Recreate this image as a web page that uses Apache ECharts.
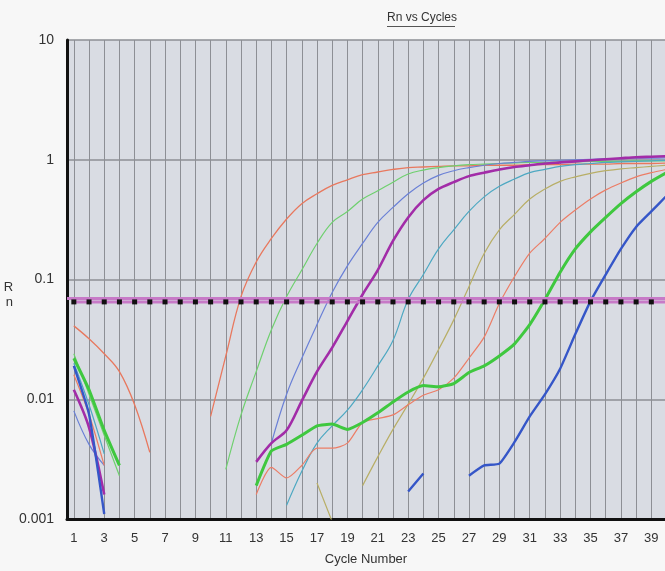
<!DOCTYPE html>
<html>
<head>
<meta charset="utf-8">
<script src="https://cdn.jsdelivr.net/npm/echarts@6/dist/echarts.min.js"></script>
<style>
  html, body { margin: 0; padding: 0; background: #f7f7f7; }
  #chart { width: 665px; height: 571px; }
</style>
</head>
<body>
<div id="chart"></div>
<script>
// Cycles 1..40 (index 0 = cycle 1), null = no point drawn
const cycles = [1, 2, 3, 4, 5, 6, 7, 8, 9, 10, 11, 12, 13, 14, 15, 16, 17, 18, 19, 20,
  21, 22, 23, 24, 25, 26, 27, 28, 29, 30, 31, 32, 33, 34, 35, 36, 37, 38, 39, 40];
const xTickLabels = [1, 3, 5, 7, 9, 11, 13, 15, 17, 19, 21, 23, 25, 27, 29, 31, 33, 35, 37, 39];
const threshold = 0.065;

const orangeThin = [0.041, 0.032, 0.024, 0.017, 0.009, 0.0036, null, null, null, 0.0072,
  0.023, 0.072, 0.14, 0.22, 0.32, 0.43, 0.52, 0.61, 0.68, 0.75,
  0.79, 0.83, 0.86, 0.87, 0.88, 0.89, 0.89, 0.9, 0.9, 0.9,
  0.91, 0.91, 0.91, 0.92, 0.92, 0.92, 0.93, 0.93, 0.93, 0.94];
const greenThin = [0.024, 0.011, 0.005, 0.0023, null, null, null, null, null, null,
  0.0026, 0.0074, 0.017, 0.038, 0.072, 0.12, 0.2, 0.3, 0.37, 0.47,
  0.55, 0.65, 0.76, 0.82, 0.86, 0.89, 0.91, 0.92, 0.93, 0.94,
  0.95, 0.95, 0.96, 0.96, 0.97, 0.97, 0.97, 0.98, 0.98, 0.98];
const blueThin = [0.008, 0.0042, 0.0028, null, null, null, null, null, null, null,
  null, null, null, 0.0043, 0.011, 0.022, 0.042, 0.078, 0.13, 0.2,
  0.3, 0.4, 0.52, 0.64, 0.74, 0.81, 0.86, 0.9, 0.93, 0.95,
  0.97, 0.98, 0.99, 1.0, 1.01, 1.02, 1.02, 1.03, 1.03, 1.04];
const purpleThick = [0.012, 0.0058, 0.0016, null, null, null, null, null, null, null,
  null, null, 0.003, 0.0043, 0.0055, 0.0097, 0.017, 0.027, 0.045, 0.075,
  0.12, 0.21, 0.33, 0.46, 0.57, 0.65, 0.73, 0.78, 0.83, 0.87,
  0.9, 0.93, 0.95, 0.97, 0.99, 1.01, 1.03, 1.05, 1.06, 1.07];
const cyanThin = [0.02, 0.009, 0.0035, null, null, null, null, null, null, null,
  null, null, null, null, 0.0013, 0.0025, 0.0043, 0.006, 0.0081, 0.012,
  0.019, 0.031, 0.068, 0.11, 0.18, 0.26, 0.37, 0.49, 0.6, 0.69,
  0.78, 0.83, 0.88, 0.91, 0.93, 0.95, 0.96, 0.97, 0.98, 0.99];
const oliveThin = [null, null, null, null, null, null, null, null, null, null,
  null, null, null, null, null, null, 0.002, 0.00095, null, 0.0019,
  0.0033, 0.0056, 0.0091, 0.015, 0.026, 0.046, 0.087, 0.165, 0.26, 0.35,
  0.47, 0.57, 0.66, 0.72, 0.77, 0.81, 0.84, 0.86, 0.88, 0.9];
const salmonThin = [0.016, 0.0075, 0.0028, null, null, null, null, null, null, null,
  null, null, 0.0016, 0.0027, 0.0022, 0.0028, 0.0039, 0.0039, 0.0043, 0.0064,
  0.0069, 0.0074, 0.009, 0.0108, 0.012, 0.015, 0.022, 0.033, 0.063, 0.106,
  0.166, 0.22, 0.3, 0.38, 0.47, 0.56, 0.64, 0.72, 0.78, 0.83];
const greenThick = [0.022, 0.012, 0.0055, 0.0028, null, null, null, null, null, null,
  null, null, 0.0019, 0.0037, 0.0042, 0.005, 0.006, 0.0062, 0.0056, 0.0064,
  0.0077, 0.0095, 0.0115, 0.013, 0.0127, 0.0135, 0.0167, 0.019, 0.023, 0.029,
  0.042, 0.068, 0.115, 0.18, 0.25, 0.33, 0.43, 0.54, 0.66, 0.78];
const blueThick = [0.019, 0.0075, 0.0011, null, null, null, null, null, null, null,
  null, null, null, null, null, null, null, null, null, null,
  null, null, 0.0017, 0.0024, null, null, 0.0023, 0.0028, 0.0029, 0.0044,
  0.0072, 0.011, 0.018, 0.035, 0.066, 0.11, 0.18, 0.275, 0.37, 0.5];

const FONT = '"Liberation Sans", Arial, sans-serif';

// ordre de dessin : les fines d'abord, les épaisses par-dessus
const curves = [
  { name: 'Orange', values: orangeThin, color: '#e8785e', width: 1.3, smooth: 0.4 },
  { name: 'Green', values: greenThin, color: '#6fd06f', width: 1.2, smooth: 0.4 },
  { name: 'Blue', values: blueThin, color: '#6a80d6', width: 1.2, smooth: 0.4 },
  { name: 'Cyan', values: cyanThin, color: '#4da8c2', width: 1.2, smooth: 0.4 },
  { name: 'Olive', values: oliveThin, color: '#b8ae66', width: 1.2, smooth: 0.4 },
  { name: 'Salmon', values: salmonThin, color: '#ec7d66', width: 1.2, smooth: 0.25 },
  { name: 'Purple', values: purpleThick, color: '#a22ca8', width: 2.6, smooth: 0.3 },
  { name: 'Green 2', values: greenThick, color: '#3fc83f', width: 3, smooth: 0.15 },
  { name: 'Blue 2', values: blueThick, color: '#3556c8', width: 2.4, smooth: 0.15 }
];

function toPoints(values) {
  return cycles.map((c, i) => [c, values[i] == null ? '-' : values[i]]);
}

const series = curves.map(c => ({
  name: c.name,
  type: 'line',
  data: toPoints(c.values),
  showSymbol: false,
  smooth: c.smooth,
  connectNulls: false,
  clip: true,
  lineStyle: { color: c.color, width: c.width },
  itemStyle: { color: c.color },
  z: 3
}));

// ligne de seuil pointillée
series.push({
  name: 'Threshold',
  type: 'line',
  data: cycles.map(c => [c, threshold]),
  symbol: 'rect',
  symbolSize: 5,
  showSymbol: true,
  lineStyle: { color: '#c77ac7', width: 3 },
  itemStyle: { color: '#111' },
  markLine: {
    silent: true,
    symbol: 'none',
    label: { show: false },
    lineStyle: { color: '#c77ac7', width: 3, type: 'solid' },
    data: [{ yAxis: threshold }]
  },
  z: 5
});

const chart = echarts.init(document.getElementById('chart'));
chart.setOption({
  animation: false,
  backgroundColor: '#f7f7f7',
  graphic: [
    {
      type: 'text', left: 387, top: 12,
      style: { text: 'Rn vs Cycles', font: '12px ' + FONT, fill: '#333' }
    },
    {
      type: 'rect', left: 387, top: 26,
      shape: { width: 68, height: 1 },
      style: { fill: '#555' }
    }
  ],
  grid: {
    left: 67, right: 0, top: 40, bottom: 50,
    show: true, backgroundColor: '#d9dce3', borderWidth: 0
  },
  xAxis: {
    type: 'value',
    min: 0.55,
    max: 39.9,
    name: 'Cycle Number',
    nameLocation: 'middle',
    nameGap: 34,
    nameTextStyle: { fontFamily: FONT, fontSize: 13, color: '#333' },
    axisLine: { show: true, onZero: false, lineStyle: { color: '#111', width: 3 } },
    axisTick: { show: false, customValues: cycles },
    axisLabel: {
      customValues: xTickLabels,
      margin: 13,
      fontFamily: FONT, fontSize: 13, color: '#333'
    },
    splitLine: { show: true, lineStyle: { color: '#8d8f95', width: 1 } }
  },
  yAxis: {
    type: 'log',
    logBase: 10,
    min: 0.001,
    max: 10,
    name: 'R\nn',
    nameLocation: 'middle',
    nameRotate: 0,
    nameGap: 48,
    nameTextStyle: {
      fontFamily: FONT, fontSize: 13, color: '#333', lineHeight: 15,
      verticalAlign: 'top'
    },
    axisLine: { show: true, lineStyle: { color: '#111', width: 3 } },
    axisTick: { show: false },
    axisLabel: {
      margin: 13,
      fontFamily: FONT, fontSize: 14, color: '#333',
      formatter: v => String(v)
    },
    splitLine: { show: true, lineStyle: { color: '#8d8f95', width: 1.5 } }
  },
  series: series
});
</script>
</body>
</html>
